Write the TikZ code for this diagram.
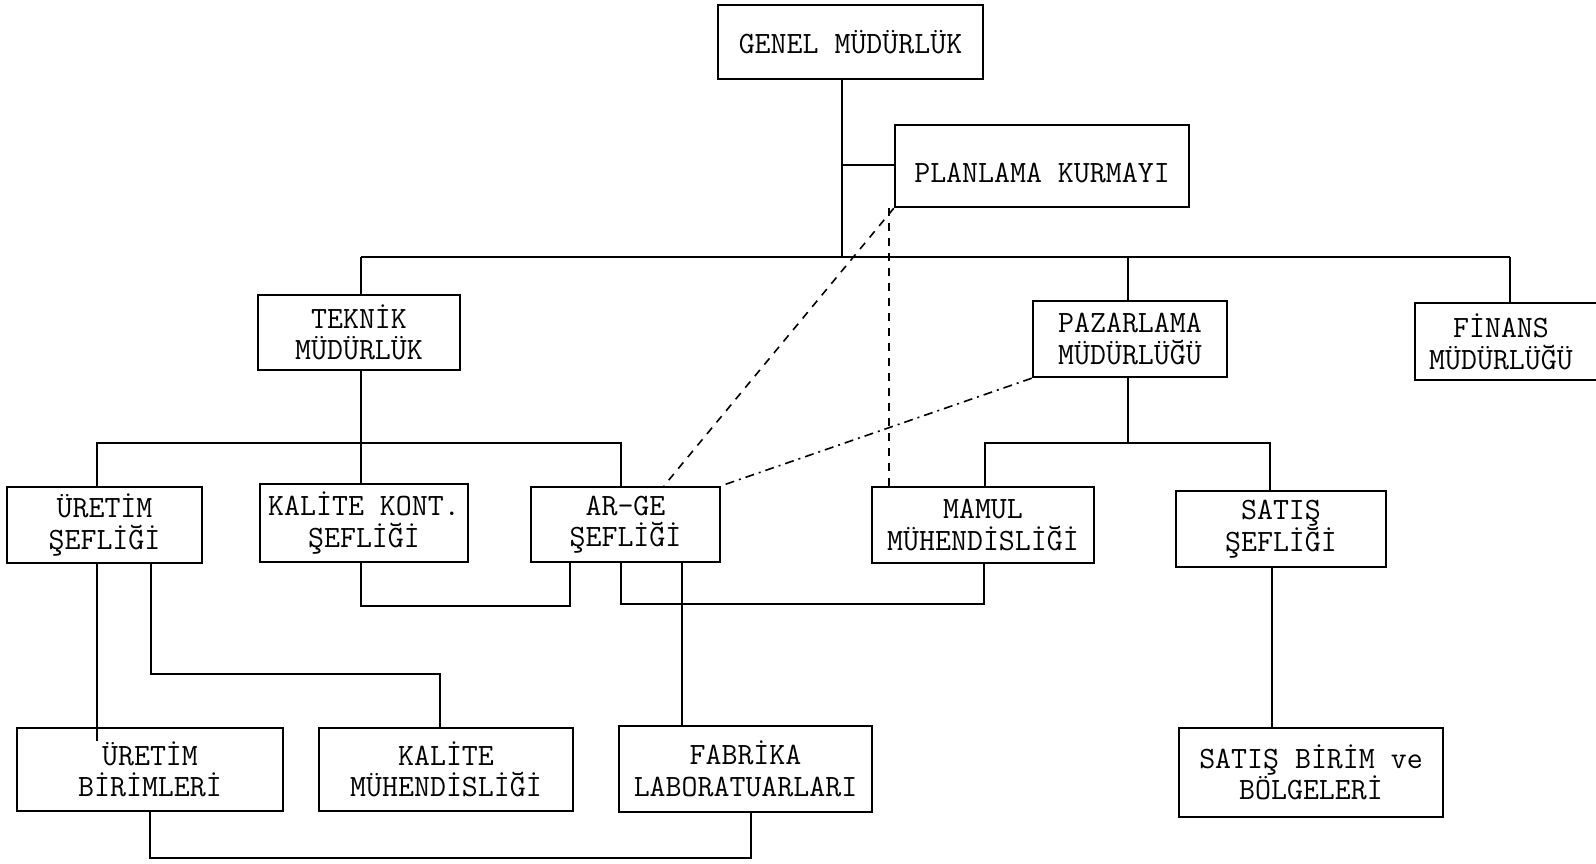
\documentclass[tikz,border=0pt]{standalone}
% typewriter lettering used in every box
\newcommand\lbl{\fontsize{31}{31.5}\selectfont\ttfamily}
\tikzset{
  box/.style={draw, line width=2.4pt, inner sep=0pt, align=center, font=\lbl},
  txt/.style={inner sep=0pt, align=center, font=\lbl},
  link/.style={line width=1.9pt},
  staff/.style={line width=1.6pt, dash pattern=on 8pt off 7pt},
  staffdot/.style={line width=1.6pt, dash pattern=on 9pt off 5pt on 2pt off 5pt},
}
\begin{document}
\begin{tikzpicture}[x=1pt, y=-1pt]
\fill[white] (0,0) rectangle (1596,863);
\useasboundingbox (0,0) rectangle (1596,863);

% top management and staff unit
\node[box, minimum width=265pt, minimum height=74pt] (genel) at (850.5,42) {GENEL MÜDÜRLÜK};
\node[box, minimum width=294pt, minimum height=82pt] (plan) at (1042,166) {\raisebox{-16pt}[0pt][0pt]{PLANLAMA KURMAYI}};

% directorates
\node[box, minimum width=202pt, minimum height=75pt] (teknik) at (359,332.5) {TEKNİK\\MÜDÜRLÜK};
\node[box, minimum width=194pt, minimum height=76pt] (pazar) at (1130,339) {PAZARLAMA\\MÜDÜRLÜĞÜ};
\node[box, minimum width=210pt, minimum height=77pt] (finans) at (1520,341.5) {};
\node[txt] (finanstxt) at (1501,342) {FİNANS\\MÜDÜRLÜĞÜ};

% departments
\node[box, minimum width=195pt, minimum height=76pt] (uretsef) at (104.5,525) {ÜRETİM\\ŞEFLİĞİ};
\node[box, minimum width=208pt, minimum height=78pt] (kalkont) at (364,523) {KALİTE KONT.\\ŞEFLİĞİ};
\node[box, minimum width=189pt, minimum height=75pt] (arge) at (625.5,524.5) {AR-GE\\ŞEFLİĞİ};
\node[box, minimum width=222pt, minimum height=76pt] (mamul) at (983,525) {MAMUL\\MÜHENDİSLİĞİ};
\node[box, minimum width=210pt, minimum height=76pt] (satsef) at (1281,529) {SATIŞ\\ŞEFLİĞİ};

% units
\node[box, minimum width=266pt, minimum height=83pt] (uretbir) at (150,769.5) {ÜRETİM\\BİRİMLERİ};
\node[box, minimum width=254pt, minimum height=83pt] (kalmuh) at (446,769.5) {KALİTE\\MÜHENDİSLİĞİ};
\node[box, minimum width=253pt, minimum height=86pt] (fabrika) at (745.5,769) {FABRİKA\\LABORATUARLARI};
\node[box, minimum width=264pt, minimum height=89pt] (satbir) at (1311,772.5) {SATIŞ BİRİM ve\\BÖLGELERİ};

% main line of authority
\coordinate (g) at (842,257);
\coordinate (gp) at (842,165);
\coordinate (busL) at (361,257);
\coordinate (busP) at (1128,257);
\coordinate (busR) at (1510,257);
\draw[link] (genel.south -| g) -- (g);
\draw[link] (gp) -- (gp -| plan.west);
\draw[link] (busL) -- (busR);
\draw[link] (busL) -- (busL |- teknik.north);
\draw[link] (busP) -- (busP |- pazar.north);
\draw[link] (busR) -- (busR |- finans.north);

% technical directorate
\coordinate (tL) at (97,443);
\coordinate (tR) at (621,443);
\draw[link] (teknik.south -| busL) -- (kalkont.north -| busL);
\draw[link] (tL |- uretsef.north) -- (tL) -- (tR) -- (tR |- arge.north);

% marketing directorate
\coordinate (pL) at (985,443);
\coordinate (pR) at (1270,443);
\draw[link] (pazar.south -| busP) -- (busP |- pL);
\draw[link] (pL |- mamul.north) -- (pL) -- (pR) -- (pR |- satsef.north);

% links between departments and units
\coordinate (k1) at (361,606);
\coordinate (k2) at (570,606);
\draw[link] (kalkont.south -| k1) -- (k1) -- (k2) -- (arge.south -| k2);
\coordinate (a1) at (621,604);
\coordinate (a2) at (984,604);
\draw[link] (arge.south -| a1) -- (a1) -- (a2) -- (mamul.south -| a2);
\coordinate (a3) at (682,650);
\draw[link] (arge.south -| a3) -- (fabrika.north -| a3);
\coordinate (u1) at (97,650);
\draw[link] (uretsef.south -| u1) -- ([yshift=-14pt]uretbir.north -| u1);
\coordinate (u2) at (151,674);
\coordinate (u3) at (440,674);
\draw[link] (uretsef.south -| u2) -- (u2) -- (u3) -- (kalmuh.north -| u3);
\coordinate (s1) at (1272,650);
\draw[link] (satsef.south -| s1) -- (satbir.north -| s1);
\coordinate (b1) at (150,858);
\coordinate (b2) at (751,858);
\draw[link] (uretbir.south -| b1) -- (b1) -- (b2) -- (fabrika.south -| b2);

% functional (staff) relations
\coordinate (d1) at (664,0);
\coordinate (d2) at (889,0);
\draw[staff] (plan.south west) -- (arge.north -| d1);
\draw[staff] (plan.south -| d2) -- (mamul.north -| d2);
\draw[staffdot] (pazar.south west) -- (arge.north east);
\end{tikzpicture}
\end{document}
